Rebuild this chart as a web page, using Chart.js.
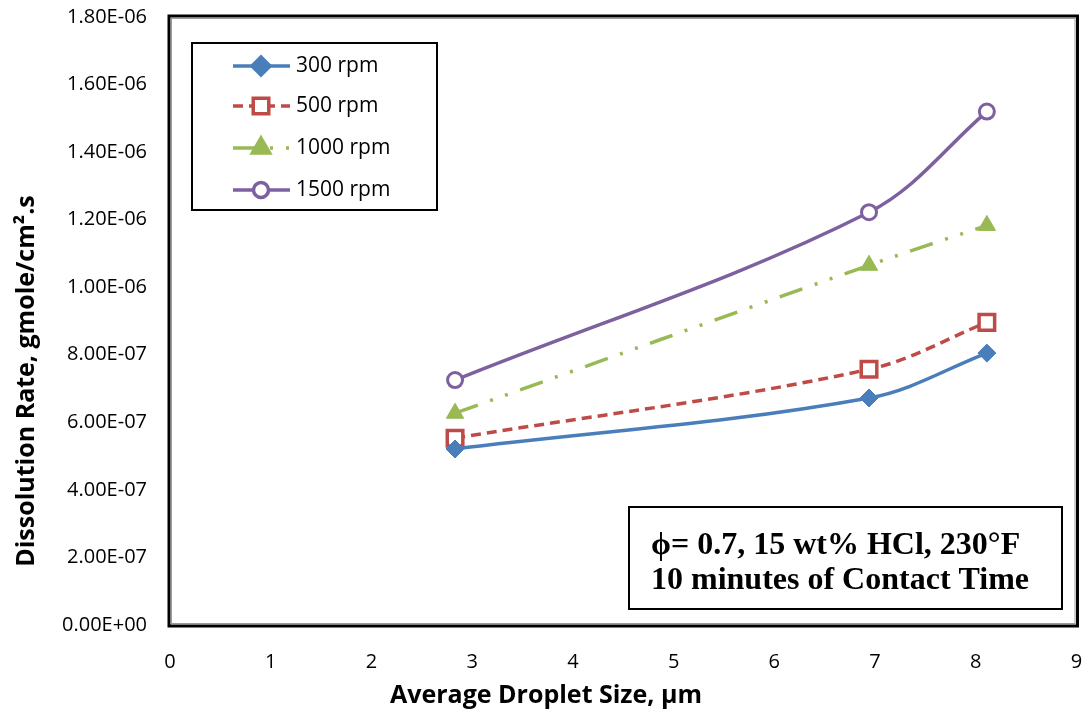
<!DOCTYPE html>
<html>
<head>
<meta charset="utf-8">
<script src="https://cdn.jsdelivr.net/npm/chart.js@4"></script>
<style>
  html, body { margin: 0; padding: 0; background: #fff; }
  #wrap { width: 1091px; height: 715px; }
</style>
</head>
<body>
<div id="wrap"><canvas id="myChart"></canvas></div>
<script>
// droplet sizes (µm) and dissolution rates
const sizes = [2.83, 6.94, 8.11];
const rpm300 = [5.21e-7, 6.72e-7, 8.05e-7];
const rpm500 = [5.53e-7, 7.57e-7, 8.96e-7];
const rpm1000 = [6.27e-7, 1.065e-6, 1.183e-6];
const rpm1500 = [7.25e-7, 1.222e-6, 1.52e-6];
const seriesNames = ['300 rpm', '500 rpm', '1000 rpm', '1500 rpm'];
const yTitle = 'Dissolution Rate, gmole/cm\u00B2.s';
const xTitle = 'Average Droplet Size, \u00B5m';
const noteLines = ['\u03D5= 0.7, 15 wt% HCl, 230\u00B0F', '10 minutes of Contact Time'];

const ctx = document.getElementById('myChart');
const sans = '"Open Sans", "DejaVu Sans", sans-serif';

function toPoints(vals) {
    return vals.map((v, i) => ({ x: sizes[i], y: v }));
}

// formato tipo Excel: 1.80E-06
function sci(value) {
    if (Math.abs(value) < 1e-12) return '0.00E+00';
    const parts = value.toExponential(2).split('e');
    const exp = parseInt(parts[1]);
    const sign = exp < 0 ? '-' : '+';
    return parts[0].toUpperCase() + 'E' + sign + String(Math.abs(exp)).padStart(2, '0');
}

// marco doble del area de grafico + titulos de ejes (centrados en la figura, como Excel)
const frame = {
    id: 'frame',
    afterDraw(chart) {
        const a = chart.chartArea;
        const c = chart.ctx;
        c.save();
        c.strokeStyle = '#000';
        c.lineWidth = 3;
        c.strokeRect(a.left - 1, a.top - 1, a.right - a.left + 2, a.bottom - a.top + 2);
        c.strokeStyle = '#9a9a9a';
        c.lineWidth = 1;
        c.strokeRect(a.left + 1.5, a.top + 1.5, a.right - a.left - 3, a.bottom - a.top - 3);

        c.fillStyle = '#000';
        c.font = 'bold 25px ' + sans;
        c.textAlign = 'center';
        c.textBaseline = 'middle';
        c.fillText(xTitle, 546, 696);

        c.translate(27, 381);
        c.rotate(-Math.PI / 2);
        c.fillText(yTitle, 0, 0);
        c.restore();
    }
};

// leyenda dentro del grafico + recuadro de condiciones
const boxes = {
    id: 'boxes',
    afterDraw(chart) {
        const c = chart.ctx;
        c.save();
        c.strokeStyle = '#000';
        c.lineWidth = 2;
        c.fillStyle = '#fff';
        c.fillRect(192, 43, 245, 167);
        c.strokeRect(192, 43, 245, 167);

        const rows = [66, 106, 148, 190];
        chart.data.datasets.forEach((ds, i) => {
            const y = rows[i];
            c.strokeStyle = ds.borderColor;
            c.lineWidth = ds.borderWidth;
            c.setLineDash(ds.borderDash || []);
            c.beginPath();
            c.moveTo(233, y);
            c.lineTo(290, y);
            c.stroke();
            c.setLineDash([]);
            c.fillStyle = ds.pointBackgroundColor;
            c.strokeStyle = ds.borderColor;
            Chart.helpers.drawPoint(c, {
                pointStyle: ds.pointStyle,
                radius: ds.pointRadius,
                borderWidth: ds.pointBorderWidth,
                rotation: 0
            }, 261, y);
            c.fillStyle = '#000';
            c.font = '21px ' + sans;
            c.textBaseline = 'middle';
            c.textAlign = 'left';
            c.fillText(ds.label, 296, y);
        });

        c.strokeStyle = '#000';
        c.lineWidth = 2;
        c.fillStyle = '#fff';
        c.fillRect(629, 507, 433, 102);
        c.strokeRect(629, 507, 433, 102);
        c.fillStyle = '#000';
        c.font = 'bold 32px "Liberation Serif", "Times New Roman", serif';
        c.textBaseline = 'alphabetic';
        c.textAlign = 'left';
        c.fillText(noteLines[0], 651, 554);
        c.fillText(noteLines[1], 651, 589);
        c.restore();
    }
};

const chart = new Chart(ctx, {
    type: 'line',
    data: {
        datasets: [
            {
                label: seriesNames[0], data: toPoints(rpm300),
                borderColor: '#4a7ebb', backgroundColor: '#4a7ebb',
                pointStyle: 'rectRot', pointRadius: 9, pointBackgroundColor: '#4a7ebb', pointBorderWidth: 1,
                borderWidth: 3.5, tension: 0.35
            },
            {
                label: seriesNames[1], data: toPoints(rpm500),
                borderColor: '#be4b48', backgroundColor: '#fff', borderDash: [10, 6],
                pointStyle: 'rect', pointRadius: 11, pointBackgroundColor: '#fff', pointBorderWidth: 3.5,
                borderWidth: 3.5, tension: 0.35
            },
            {
                label: seriesNames[2], data: toPoints(rpm1000),
                borderColor: '#98b954', backgroundColor: '#98b954', borderDash: [24, 13, 3, 13, 3, 13],
                pointStyle: 'triangle', pointRadius: 10, pointBackgroundColor: '#98b954', pointBorderWidth: 1,
                borderWidth: 3.5, tension: 0.35
            },
            {
                label: seriesNames[3], data: toPoints(rpm1500),
                borderColor: '#7d60a0', backgroundColor: '#fff',
                pointStyle: 'circle', pointRadius: 7.5, pointBackgroundColor: '#fff', pointBorderWidth: 3,
                borderWidth: 3.5, tension: 0.35
            }
        ]
    },
    options: {
        responsive: true,
        maintainAspectRatio: false,
        animation: false,
        layout: { padding: { top: 17, right: 3, left: 0, bottom: 0 } },
        plugins: { legend: { display: false }, tooltip: { enabled: false } },
        scales: {
            x: {
                type: 'linear', min: 0, max: 9,
                grid: { display: false, drawTicks: false },
                border: { display: false },
                ticks: { stepSize: 1, padding: 25, color: '#000', font: { family: sans, size: 20 } },
                afterFit(scale) {
                    scale.height = 90;
                    scale.paddingLeft = 0;
                    scale.paddingRight = 0;
                }
            },
            y: {
                min: 0, max: 1.8e-6,
                grid: { display: false, drawTicks: false },
                border: { display: false },
                ticks: { stepSize: 2e-7, padding: 23, color: '#000', font: { family: sans, size: 20 },
                    callback: (v) => sci(v) },
                afterFit(scale) {
                    scale.width = 170;
                    scale.paddingTop = 0;
                    scale.paddingBottom = 0;
                }
            }
        }
    },
    plugins: [frame, boxes]
});
</script>
</body>
</html>
